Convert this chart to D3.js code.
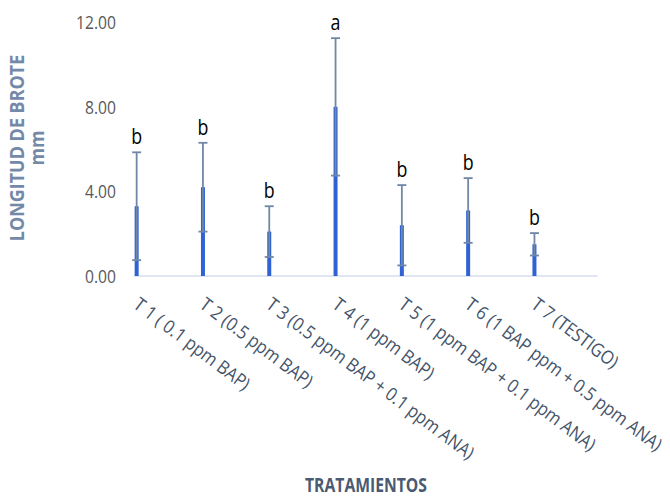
<!DOCTYPE html>
<html><head><meta charset="utf-8">
<script src="https://cdn.jsdelivr.net/npm/d3@7"></script>
<style>body{margin:0;background:#fff}svg{display:block}</style>
</head><body>
<script>
const categories = ["T 1 ( 0.1 ppm BAP)","T 2 (0.5 ppm BAP)","T 3 (0.5 ppm BAP + 0.1 ppm ANA)","T 4 (1 ppm BAP)","T 5 (1 ppm BAP + 0.1 ppm ANA)","T 6 (1 BAP ppm + 0.5 ppm ANA)","T 7 (TESTIGO)"];
const means = [3.3, 4.2, 2.1, 8.0, 2.4, 3.1, 1.5];
const sds = [2.55, 2.1, 1.2, 3.25, 1.9, 1.53, 0.53];
const letters = ["b","b","b","a","b","b","b"];
const yTicks = [0, 4, 8, 12];

const W = 670, H = 497;
const svg = d3.select("body").append("svg").attr("width", W).attr("height", H);

function condense(sel, k) {
  sel.each(function () {
    const l = this.getComputedTextLength();
    this.setAttribute("textLength", l * k);
    this.setAttribute("lengthAdjust", "spacingAndGlyphs");
  });
}

const x = d3.scaleBand().domain(categories).range([103.5, 567.6]);
const y = d3.scaleLinear().domain([0, 12]).range([276, 22.3]);
const cx = d => x(d) + x.bandwidth() / 2;

// axis line
svg.append("line").attr("x1", cx(categories[0]) - 3).attr("x2", cx(categories[6]) + 63)
  .attr("y1", y(0)).attr("y2", y(0)).attr("stroke", "#d6deec").attr("stroke-width", 1.5);

// y tick labels
const yAxis = d3.axisLeft(y).tickValues(yTicks).tickFormat(d3.format(".2f")).tickSize(0).tickPadding(0);
const gy = svg.append("g").attr("transform", "translate(116,0)").call(yAxis);
gy.select(".domain").remove();
gy.selectAll("text").attr("font-family", "Open Sans").attr("font-size", 18).attr("fill", "#595959").attr("dy", "0.36em");
condense(gy.selectAll("text"), 0.87);

// bars
svg.selectAll("rect.bar").data(categories).join("rect").attr("class", "bar")
  .attr("x", d => cx(d) - 2).attr("width", 4)
  .attr("y", (d, i) => y(means[i])).attr("height", (d, i) => y(0) - y(means[i]))
  .attr("fill", "#2f63d3");

// error bars
const eb = svg.selectAll("g.eb").data(categories).join("g").attr("class", "eb");
eb.append("line").attr("x1", d => cx(d)).attr("x2", d => cx(d))
  .attr("y1", (d, i) => y(means[i] - sds[i])).attr("y2", (d, i) => y(means[i] + sds[i]))
  .attr("stroke", "#7088a6").attr("stroke-width", 1.8);
eb.append("line").attr("x1", d => cx(d) - 4.5).attr("x2", d => cx(d) + 4.5)
  .attr("y1", (d, i) => y(means[i] + sds[i])).attr("y2", (d, i) => y(means[i] + sds[i]))
  .attr("stroke", "#7088a6").attr("stroke-width", 1.8);
eb.append("line").attr("x1", d => cx(d) - 4.5).attr("x2", d => cx(d) + 4.5)
  .attr("y1", (d, i) => y(means[i] - sds[i])).attr("y2", (d, i) => y(means[i] - sds[i]))
  .attr("stroke", "#7088a6").attr("stroke-width", 1.8);

// letters
const lt = svg.selectAll("text.letter").data(categories).join("text").attr("class", "letter")
  .attr("x", d => cx(d)).attr("y", (d, i) => y(means[i] + sds[i]) - 8)
  .attr("text-anchor", "middle").attr("font-family", "Open Sans").attr("font-size", 21)
  .attr("fill", "#000").text((d, i) => letters[i]);
condense(lt, 0.85);

// x labels
const xl = svg.selectAll("text.xl").data(categories).join("text").attr("class", "xl")
  .attr("transform", d => `translate(${cx(d) + 4},${296}) rotate(37)`)
  .attr("dy", "0.75em")
  .attr("font-family", "Open Sans").attr("font-size", 18.5).attr("fill", "#44546a")
  .text(d => d);
condense(xl, 0.895);

// titles
const yt = svg.append("text").attr("transform", "translate(24,148) rotate(-90)")
  .attr("text-anchor", "middle").attr("font-family", "Open Sans").attr("font-weight", "bold")
  .attr("font-size", 19.5).attr("fill", "#7489a8");
yt.append("tspan").attr("x", 0).attr("dy", 0).text("LONGITUD DE BROTE");
yt.append("tspan").attr("x", 0).attr("dy", 20).text("mm");
condense(yt.selectAll("tspan"), 0.92);

const xt = svg.append("text").attr("x", 366).attr("y", 492).attr("text-anchor", "middle")
  .attr("font-family", "Open Sans").attr("font-weight", "bold").attr("font-size", 19)
  .attr("fill", "#4a5a72").text("TRATAMIENTOS");
xt.attr("textLength", 122).attr("lengthAdjust", "spacingAndGlyphs");
</script>
</body></html>
